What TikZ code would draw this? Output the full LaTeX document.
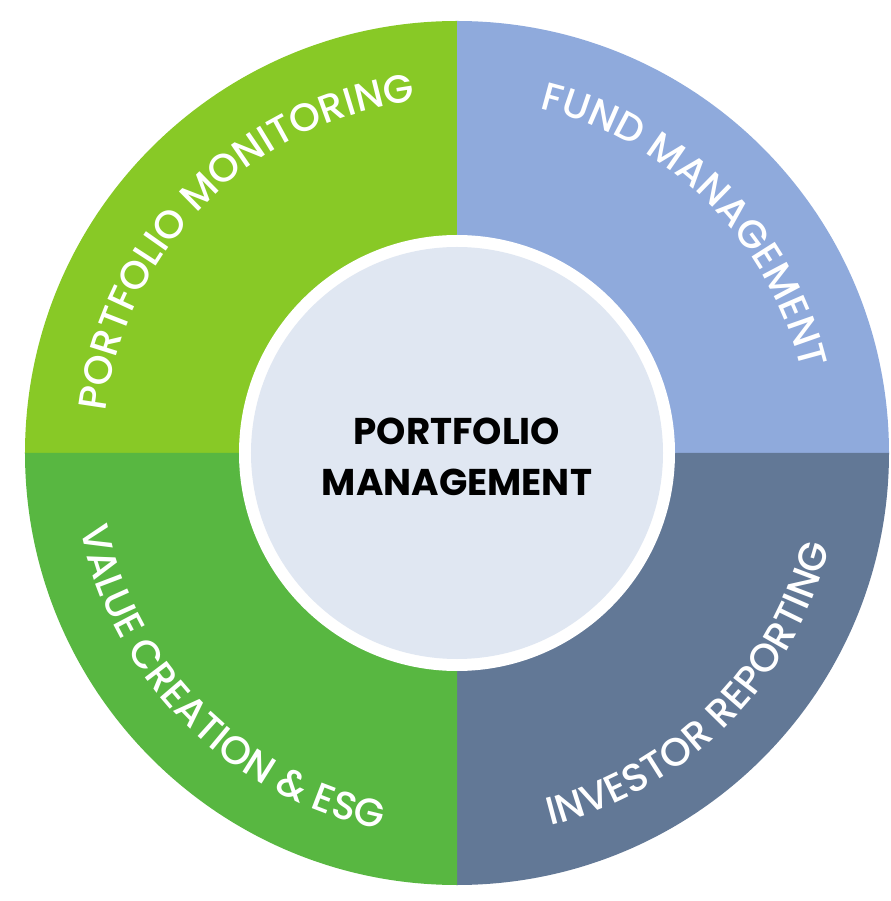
\documentclass[tikz,border=0pt]{standalone}
\usepackage{fontspec}
\setmainfont{Poppins}
\newfontfamily\ringface{Poppins Medium}
\usetikzlibrary{decorations.text}
\definecolor{monitorgreen}{HTML}{88C926}
\definecolor{fundblue}{HTML}{8FAADC}
\definecolor{investorslate}{HTML}{627896}
\definecolor{valuegreen}{HTML}{58B741}
\definecolor{corefill}{HTML}{E0E7F2}
\newcommand{\ringfont}{\ringface\fontsize{28}{28}\selectfont}
\tikzset{
  ringtext/.style={decorate, decoration={text along path, text align=center,
    text color=white, text={|\ringfont|#1}}}
}
\begin{document}
\begin{tikzpicture}
	\useasboundingbox (-11.425,-11.2) rectangle (10.825,11.325);
	\coordinate (c) at (0,0);
	% quadrants
	\fill[monitorgreen] (c) -- (180:10.8) arc (180:90:10.8) -- cycle;
	\fill[fundblue] (c) -- (90:10.8) arc (90:0:10.8) -- cycle;
	\fill[investorslate] (c) -- (0:10.8) arc (0:-90:10.8) -- cycle;
	\fill[valuegreen] (c) -- (270:10.8) arc (270:180:10.8) -- cycle;
	% core
	\fill[white] (c) circle (5.45);
	\fill[corefill] (c) circle (5.15);
	\node[font=\fontsize{26.5}{36}\selectfont\bfseries, align=center] (core) at (0,-0.1) {PORTFOLIO\\MANAGEMENT};
	% labels on the ring
	\path[ringtext={PORTFOLIO MONITORING}] (180:8.85) arc (180:90:8.85);
	\path[ringtext={FUND MANAGEMENT}] (90:8.85) arc (90:0:8.85);
	\path[ringtext={INVESTOR REPORTING}] (-90:9.6) arc (-90:0:9.6);
	\path[ringtext={VALUE CREATION {\&} ESG}] (180:9.6) arc (180:270:9.6);
\end{tikzpicture}
\end{document}
